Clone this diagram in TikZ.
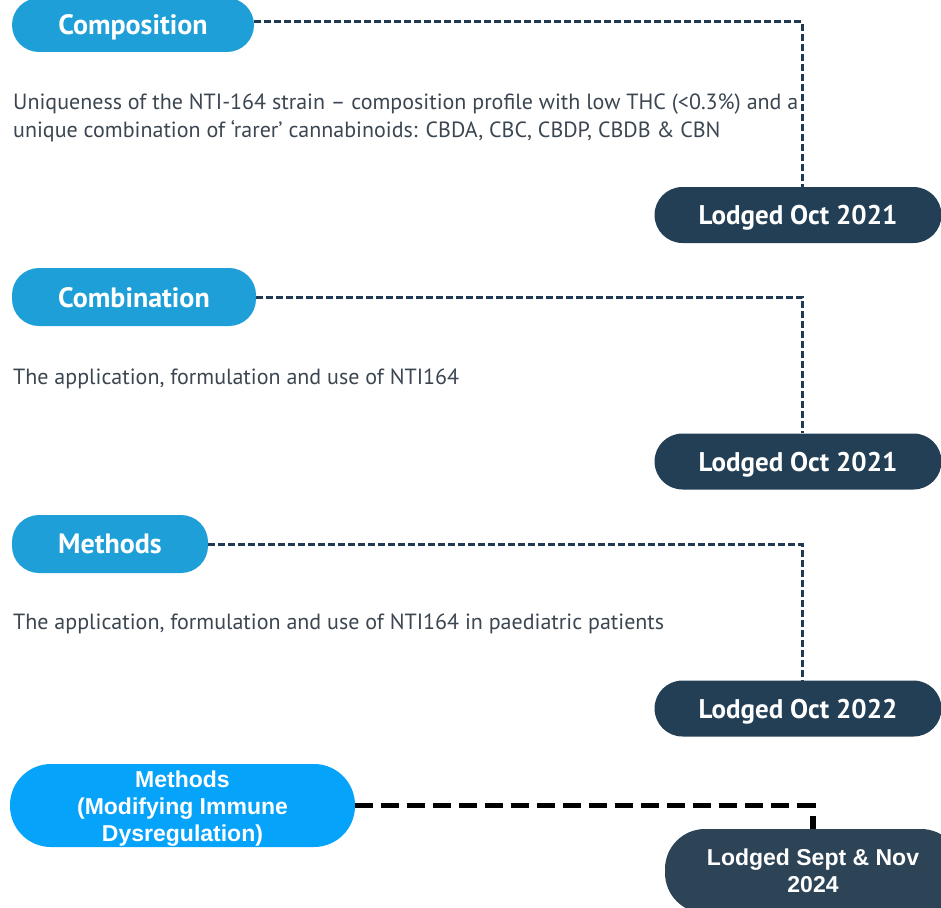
\documentclass[tikz,border=0pt]{standalone}
\usepackage{fontspec}
\newfontfamily\ptsans{PT Sans}
\newfontfamily\arialf{Liberation Sans}
\definecolor{pillblue}{HTML}{1E9FD8}
\definecolor{brightblue}{HTML}{06A3FB}
\definecolor{navy}{HTML}{233F55}
\definecolor{navytwo}{HTML}{2D4457}
\definecolor{linenavy}{HTML}{1F3A52}
\definecolor{bodytext}{HTML}{3B4651}
\begin{document}
\begin{tikzpicture}[x=1pt,y=-1pt,
  toppill/.style={fill=pillblue,text=white,rounded corners=27pt,inner sep=0pt,
    text depth=0pt,font=\ptsans\bfseries\fontsize{28}{30}\selectfont},
  lodgepill/.style={fill=navy,text=white,rounded corners=28pt,inner sep=0pt,
    minimum width=287pt,minimum height=56pt,text depth=0pt,
    font=\ptsans\bfseries\fontsize{27}{30}\selectfont},
  bodytxt/.style={anchor=west,text=bodytext,inner sep=0pt,align=left,
    font=\ptsans\fontsize{22}{28}\selectfont},
  dotline/.style={draw=linenavy,line width=3pt,dash pattern=on 7pt off 3pt},
  blackline/.style={draw=black,line width=5.5pt,dash pattern=on 18pt off 8pt},
]
\useasboundingbox (0,0) rectangle (941,907);
% Section 1
\node[toppill,minimum width=242pt,minimum height=54pt] (comp) at (133,25) {Composition};
\node[lodgepill] (l1) at (798,215) {Lodged Oct 2021};
\node[bodytxt] (t1) at (13,118) {Uniqueness of the NTI-164 strain – composition profile with low THC (<0.3\%) and a\\unique combination of ‘rarer’ cannabinoids: CBDA, CBC, CBDP, CBDB \& CBN};
\draw[dotline] ([yshift=3pt]comp.east) -| (l1.north -| 802,0);
% Section 2
\node[toppill,minimum width=244pt,minimum height=58pt] (combi) at (134,297) {Combination};
\node[lodgepill] (l2) at (798,461.5) {Lodged Oct 2021};
\node[bodytxt] (t2) at (13,379) {The application, formulation and use of NTI164};
\draw[dotline] (combi.east) -| (l2.north -| 802,0);
% Section 3
\node[toppill,minimum width=196pt,minimum height=58pt] (meth) at (110,544) {Methods};
\node[lodgepill] (l3) at (798,708.5) {Lodged Oct 2022};
\node[bodytxt] (t3) at (13,624) {The application, formulation and use of NTI164 in paediatric patients};
\draw[dotline] (meth.east) -| (l3.north -| 802,0);
% Section 4
\node[fill=brightblue,text=white,rounded corners=41pt,inner sep=0pt,
  minimum width=345pt,minimum height=83pt,align=center,
  font=\arialf\bfseries\fontsize{23}{27}\selectfont] (mimd) at (182.5,805.5)
  {\rule{0pt}{23pt}Methods\\(Modifying Immune\\Dysregulation)};
\node[fill=navytwo,text=white,rounded corners=40pt,inner sep=0pt,
  minimum width=296pt,minimum height=84pt,align=center,
  font=\arialf\bfseries\fontsize{23}{27}\selectfont] (l4) at (813,871)
  {Lodged Sept \& Nov\\2024};
\draw[blackline] (mimd.east) -| (l4.north);
\end{tikzpicture}
\end{document}
